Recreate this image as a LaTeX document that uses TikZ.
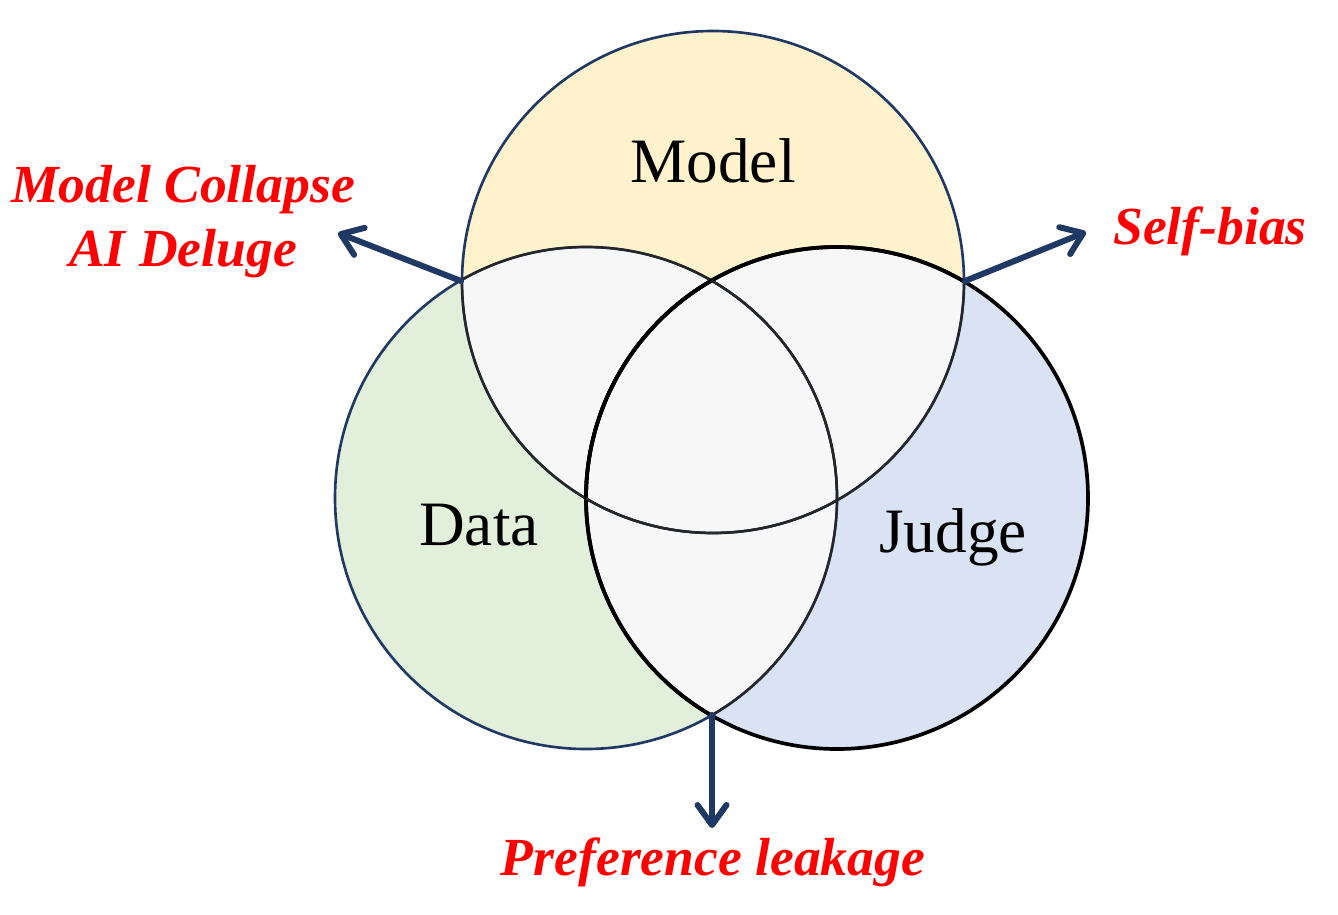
\documentclass[tikz,border=0pt]{standalone}
\usepackage{fontspec}
\setmainfont{Liberation Serif}
\usetikzlibrary{arrows.meta, positioning}

\definecolor{cmodelo}{HTML}{FFF2CC}
\definecolor{cdados}{HTML}{E2EFDA}
\definecolor{cjuiz}{HTML}{DAE3F3}
\definecolor{cinter}{HTML}{F7F7F7}
\definecolor{azul}{HTML}{203864}
\definecolor{cinza}{HTML}{262626}

\tikzset{
  borda/.style={draw=azul, line width=1.5pt},
  bordaj/.style={draw=black, line width=2.1pt},
  arco/.style={draw=cinza, line width=1.3pt},
  seta/.style={->, draw=azul, line width=3.4pt, line cap=round},
  rotulo/.style={font=\fontsize{36}{43}\selectfont, anchor=base},
  risco/.style={text=red, font=\fontsize{30.5}{36}\selectfont\bfseries\itshape, anchor=base}
}

\begin{document}
\begin{tikzpicture}[x=0.02cm, y=0.02cm, >={Straight Barb[length=4mm, width=5.8mm, round]}]

      \useasboundingbox (0,0) rectangle (1338,914);

      % Centros dos circulos
      \def\raio{251}
      \coordinate (cm) at (713,632);
      \coordinate (cd) at (586,416);
      \coordinate (cj) at (837,416);

      % Preenchimento dos circulos
      \fill[cmodelo] (cm) circle (\raio);
      \fill[cdados] (cd) circle (\raio);
      \fill[cjuiz] (cj) circle (\raio);

      % Intersecoes em cinza
      \begin{scope}
        \clip (cm) circle (\raio);
        \fill[cinter] (cd) circle (\raio);
        \fill[cinter] (cj) circle (\raio);
      \end{scope}
      \begin{scope}
        \clip (cd) circle (\raio);
        \fill[cinter] (cj) circle (\raio);
      \end{scope}

      % Contornos externos
      \draw[borda] (cm) circle (\raio);
      \draw[borda] (cd) circle (\raio);
      \draw[bordaj] (cj) circle (\raio);

      % Arcos internos
      \begin{scope}
        \clip (cm) circle (\raio);
        \draw[arco] (cd) circle (\raio);
        \draw[bordaj] (cj) circle (\raio);
      \end{scope}
      \begin{scope}
        \clip (cd) circle (\raio);
        \draw[arco] (cm) circle (\raio);
        \draw[bordaj] (cj) circle (\raio);
      \end{scope}
      \begin{scope}
        \clip (cj) circle (\raio);
        \draw[arco] (cm) circle (\raio);
        \draw[arco] (cd) circle (\raio);
      \end{scope}

      % Nomes dos conjuntos
      \node[rotulo] (modelo) at (713,731) {Model};
      \node[rotulo] (dados) at (479,369) {Data};
      \node[rotulo] (juiz) at (953,362) {Judge};

      % Pontos de saida das setas
      \coordinate (pesq) at (461,633);
      \coordinate (pdir) at (965,633);
      \coordinate (pbaixo) at (712,199);

      % Pontas das setas
      \coordinate (tesq) at (338,681);
      \coordinate (tdir) at (1086,682);
      \coordinate (tbaixo) at (712,86);

      % Setas
      \draw[seta] (pesq) -- (tesq);
      \draw[seta] (pdir) -- (tdir);
      \draw[seta] (pbaixo) -- (tbaixo);

      % Riscos em vermelho
      \node[risco] (colapso) at (183,711) {Model Collapse};
      \node[risco] (diluvio) at (183,647) {AI Deluge};
      \node[risco] (vies) at (1210,669) {Self-bias};
      \node[risco] (vazamento) at (713,39) {Preference leakage};

\end{tikzpicture}
\end{document}
